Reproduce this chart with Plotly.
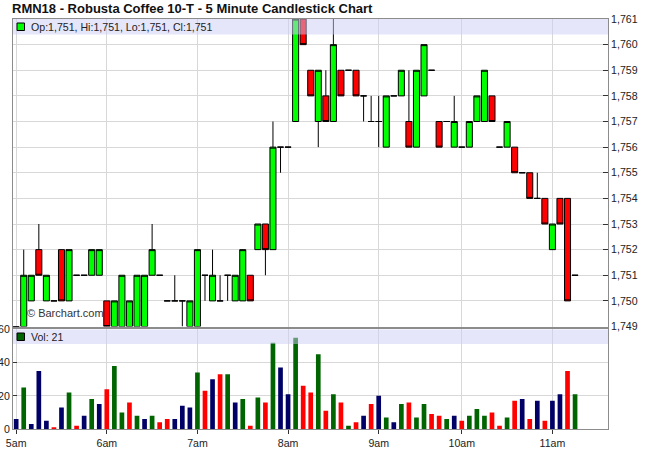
import plotly.graph_objects as go

# ---------------- data ----------------
hour_labels = ["5am", "6am", "7am", "8am", "9am", "10am", "11am"]
hour_index = [0, 12, 24, 36, 48, 59, 71]

opens = [1749, 1749, 1750, 1752, 1750, 1750, 1752, 1750, 1751, 1751,
         1751, 1751, 1750, 1749, 1749, 1749, 1749, 1749, 1751, 1751,
         1750, 1750, 1750, 1749, 1749, 1751, 1750, 1750, 1751, 1750,
         1750, 1751, 1752, 1753, 1752, 1756, 1756, 1757, 1761, 1759,
         1757, 1758, 1757, 1759, 1759, 1759, 1758, 1757, 1757, 1756,
         1758, 1758, 1757, 1756, 1758, 1759, 1757, 1757, 1756, 1756,
         1756, 1757, 1757, 1758, 1756, 1756, 1756, 1755, 1755, 1754,
         1754, 1752, 1754, 1754, 1751]
highs = [1749, 1752, 1751, 1753, 1751, 1750, 1752, 1752, 1751, 1751,
         1752, 1752, 1750, 1750, 1751, 1750, 1751, 1751, 1753, 1751,
         1750, 1751, 1750, 1750, 1752, 1751, 1752, 1751, 1751, 1751,
         1752, 1751, 1753, 1753, 1757, 1756, 1756, 1761, 1761, 1759,
         1759, 1759, 1761, 1759, 1759, 1759, 1758, 1758, 1758, 1758,
         1758, 1759, 1759, 1759, 1760, 1759, 1757, 1757, 1758, 1756,
         1757, 1758, 1759, 1758, 1756, 1757, 1756, 1755, 1755, 1755,
         1754, 1753, 1754, 1754, 1751]
lows = [1749, 1749, 1750, 1751, 1750, 1750, 1750, 1750, 1751, 1751,
        1751, 1751, 1749, 1749, 1749, 1749, 1749, 1749, 1751, 1751,
        1750, 1750, 1749, 1749, 1749, 1750, 1750, 1750, 1750, 1750,
        1750, 1750, 1752, 1751, 1752, 1755, 1756, 1757, 1760, 1758,
        1756, 1757, 1757, 1758, 1759, 1758, 1757, 1757, 1756, 1756,
        1758, 1758, 1756, 1756, 1758, 1759, 1756, 1757, 1756, 1756,
        1756, 1757, 1757, 1757, 1756, 1756, 1755, 1755, 1754, 1754,
        1753, 1752, 1753, 1750, 1751]
closes = [1749, 1751, 1751, 1751, 1751, 1750, 1750, 1752, 1751, 1751,
          1752, 1752, 1749, 1750, 1751, 1750, 1751, 1751, 1752, 1751,
          1750, 1750, 1750, 1750, 1752, 1751, 1751, 1750, 1751, 1751,
          1752, 1750, 1753, 1752, 1756, 1756, 1756, 1761, 1760, 1758,
          1759, 1757, 1760, 1758, 1759, 1758, 1758, 1757, 1757, 1758,
          1758, 1759, 1756, 1759, 1760, 1759, 1756, 1757, 1757, 1756,
          1757, 1758, 1759, 1757, 1756, 1757, 1755, 1755, 1754, 1754,
          1753, 1753, 1753, 1750, 1751]
volumes = [6, 25, 3, 35, 5, 1, 13, 22, 2, 8,
           18, 15, 24, 38, 10, 16, 8, 6, 8, 4,
           6, 6, 14, 13, 34, 23, 30, 33, 33, 16,
           18, 2, 19, 16, 52, 37, 21, 55, 26, 22,
           45, 11, 21, 16, 2, 4, 8, 15, 20, 7,
           4, 15, 16, 7, 15, 9, 8, 6, 8, 5,
           8, 12, 8, 10, 2, 7, 17, 18, 6, 17,
           5, 17, 21, 35, 21]

bar_index = list(range(len(closes)))

# ---------------- styling helpers ----------------
UP_VOL, DOWN_VOL, FLAT_VOL = "#006400", "#FF0000", "#000066"
vol_colors = []
for i, c in enumerate(closes):
    if i == 0 or c == closes[i - 1]:
        vol_colors.append(FLAT_VOL)
    elif c > closes[i - 1]:
        vol_colors.append(UP_VOL)
    else:
        vol_colors.append(DOWN_VOL)

W, H = 650, 470
PL, PR, PT, PB = 13, 608, 19, 429
PW, PH = PR - PL, PB - PT


def px(x):
    return (x - PL) / PW


def py(y):
    return (PB - y) / PH


FONT = "Liberation Sans, Arial, sans-serif"
GRID = "#D8D8D8"
AXIS = "#8C8C8C"
TXT = "#222222"

fig = go.Figure()
fig.add_trace(go.Candlestick(
    x=bar_index, open=opens, high=highs, low=lows, close=closes,
    xaxis="x", yaxis="y",
    increasing=dict(fillcolor="#00FF00", line=dict(color="#000000", width=1)),
    decreasing=dict(fillcolor="#FF0000", line=dict(color="#000000", width=1)),
    whiskerwidth=0, showlegend=False, hoverinfo="skip",
))
fig.add_trace(go.Bar(
    x=bar_index, y=volumes, xaxis="x2", yaxis="y2",
    marker=dict(color=vol_colors, line=dict(width=0)),
    showlegend=False, hoverinfo="skip",
))

xr = [-0.42, 78.36]
common_x = dict(range=xr, tickvals=hour_index, ticktext=hour_labels,
                showgrid=True, gridcolor=GRID, gridwidth=1,
                showline=True, linecolor=AXIS, linewidth=1, mirror=True,
                zeroline=False, fixedrange=True, automargin=False)

fig.update_layout(
    width=W, height=H,
    margin=dict(l=PL, r=W - PR, t=PT, b=H - PB, pad=0, autoexpand=False),
    paper_bgcolor="white", plot_bgcolor="white",
    font=dict(family=FONT, size=10.6, color=TXT),
    boxgap=0.2, boxgroupgap=0, bargap=0.38,
    showlegend=False,
    xaxis=dict(domain=[0, 1], anchor="y", showticklabels=False, ticks="",
               rangeslider=dict(visible=False), **common_x),
    yaxis=dict(domain=[0.25, 1], anchor="x", range=[1749, 1761], side="right",
               dtick=1, tick0=1749, tickformat=",d", ticks="inside", ticklen=5,
               tickcolor="#333333", showgrid=True, gridcolor=GRID,
               showline=True, linecolor=AXIS, mirror=True, zeroline=False,
               tickfont=dict(size=10.6, color=TXT), fixedrange=True,
               automargin=False),
    xaxis2=dict(domain=[0, 1], anchor="y2", matches="x", ticks="outside",
                ticklen=4, tickcolor="#333333", tickfont=dict(size=10.6, color=TXT),
                **common_x),
    yaxis2=dict(domain=[0, 0.243], anchor="x2", range=[0, 60], side="left",
                tickvals=[0, 20, 40, 60], ticks="inside", ticklen=4,
                tickcolor="#333333", showgrid=True, gridcolor=GRID,
                showline=True, linecolor=AXIS, mirror=True, zeroline=False,
                tickfont=dict(size=10.6, color=TXT), fixedrange=True,
                automargin=False),
)

band = "rgba(205,205,245,0.5)"
shapes = [
    dict(type="rect", xref="paper", yref="paper", x0=0, x1=1,
         y0=py(34.5), y1=1, fillcolor=band, line=dict(width=0), layer="above"),
    dict(type="rect", xref="paper", yref="paper", x0=0, x1=1,
         y0=py(344), y1=py(329.4), fillcolor=band, line=dict(width=0), layer="above"),
    dict(type="rect", xref="paper", yref="paper", x0=px(17), x1=px(24.5),
         y0=py(30.5), y1=py(23), fillcolor="#00FF00",
         line=dict(color="#000000", width=1), layer="above"),
    dict(type="rect", xref="paper", yref="paper", x0=px(17), x1=px(24.5),
         y0=py(340.5), y1=py(333), fillcolor=UP_VOL,
         line=dict(color="#000000", width=1), layer="above"),
]
fig.update_layout(shapes=shapes)

last = len(closes) - 1
ohlc_text = "Op:{:,}, Hi:{:,}, Lo:{:,}, Cl:{:,}".format(
    opens[last], highs[last], lows[last], closes[last])

annotations = [
    dict(text="<b>RMN18 - Robusta Coffee 10-T - 5 Minute Candlestick Chart</b>",
         xref="paper", yref="paper", x=px(10), y=py(9), xanchor="left",
         yanchor="middle", showarrow=False,
         font=dict(family=FONT, size=13, color="#111111")),
    dict(text=ohlc_text, xref="paper", yref="paper", x=px(28.5), y=py(27),
         xanchor="left", yanchor="middle", showarrow=False,
         font=dict(family=FONT, size=10.6, color=TXT)),
    dict(text="Vol: {}".format(volumes[last]), xref="paper", yref="paper",
         x=px(28.5), y=py(337), xanchor="left", yanchor="middle", showarrow=False,
         font=dict(family=FONT, size=10.6, color=TXT)),
    dict(text="© Barchart.com", xref="paper", yref="paper", x=px(25), y=py(313),
         xanchor="left", yanchor="middle", showarrow=False,
         font=dict(family=FONT, size=11, color="#333333")),
]
fig.update_layout(annotations=annotations)

fig.write_html("out.html", config=dict(displayModeBar=False),
               post_script="document.body.style.margin='0px';")
